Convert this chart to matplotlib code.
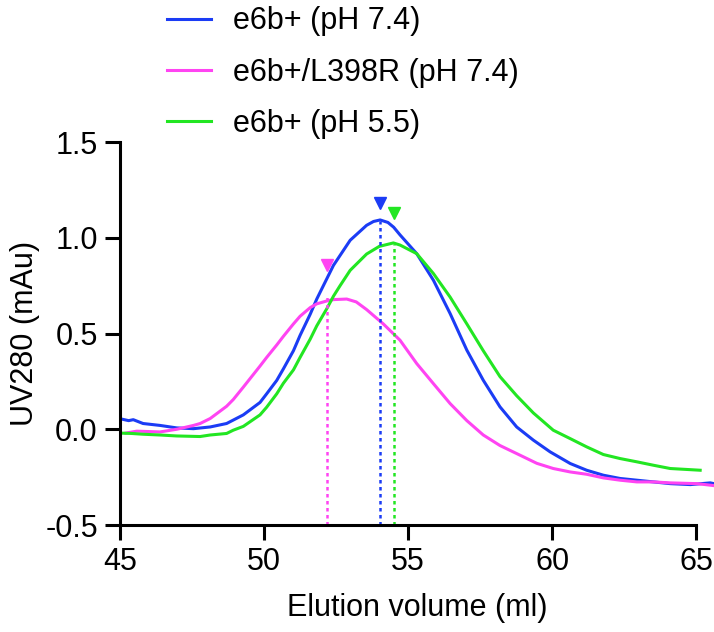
import matplotlib
matplotlib.use("Agg")
import matplotlib.pyplot as plt

# ── Data ────────────────────────────────────────────────────────────────────

BLUE_X = [45.0, 45.3, 45.46, 45.8, 46.39, 46.97, 47.55, 48.13, 48.7, 49.28,
          49.86, 50.09, 50.44, 50.67, 51.02, 51.25, 51.6, 51.83, 52.06, 52.41,
          52.99, 53.56, 53.8, 54.03, 54.3, 54.5, 54.72, 55.3, 55.88, 56.46,
          57.04, 57.61, 58.19, 58.77, 59.35, 59.93, 60.63, 61.2, 61.78, 62.36,
          62.94, 63.52, 64.1, 64.8, 65.49, 65.65]
BLUE_Y = [0.055, 0.045, 0.05, 0.03, 0.02, 0.007, 0.003, 0.012, 0.03, 0.075,
          0.14, 0.185, 0.255, 0.315, 0.41, 0.49, 0.60, 0.68, 0.75, 0.856,
          0.987, 1.065, 1.085, 1.093, 1.08, 1.055, 1.015, 0.917, 0.778, 0.604,
          0.413, 0.256, 0.117, 0.012, -0.057, -0.118, -0.179, -0.214, -0.24, -0.257,
          -0.266, -0.275, -0.284, -0.289, -0.28, -0.285]

MAG_X = [45.2, 45.58, 46.0, 46.39, 46.97, 47.55, 47.78, 48.13, 48.7, 48.93,
         49.28, 49.86, 50.09, 50.44, 50.67, 51.02, 51.25, 51.6, 51.83, 52.18,
         52.41, 52.87, 53.2, 53.56, 54.14, 54.72, 55.3, 55.88, 56.46, 57.04,
         57.61, 58.19, 58.77, 59.47, 60.04, 60.63, 61.2, 61.78, 62.36, 62.94,
         63.52, 64.1, 65.03, 65.49, 65.65]
MAG_Y = [-0.02, -0.01, -0.012, -0.014, 0.0, 0.02, 0.03, 0.056, 0.12, 0.155,
         0.22, 0.33, 0.375, 0.44, 0.485, 0.55, 0.59, 0.635, 0.655, 0.67,
         0.677, 0.68, 0.665, 0.625, 0.55, 0.465, 0.343, 0.238, 0.134, 0.045,
         -0.03, -0.085, -0.127, -0.178, -0.205, -0.223, -0.235, -0.254, -0.266, -0.275,
         -0.275, -0.28, -0.284, -0.292, -0.295]

GREEN_X = [45.0, 45.4, 45.8, 46.39, 46.97, 47.78, 48.13, 48.7, 48.93, 49.28,
           49.86, 50.09, 50.44, 50.67, 51.02, 51.25, 51.6, 51.83, 52.18, 52.41,
           52.64, 52.99, 53.56, 54.0, 54.49, 54.72, 55.3, 55.88, 56.46, 57.04,
           57.61, 58.19, 58.77, 59.35, 60.04, 60.63, 61.2, 61.78, 62.36, 62.94,
           63.52, 64.1, 65.14]
GREEN_Y = [-0.02, -0.022, -0.026, -0.03, -0.035, -0.038, -0.03, -0.022, -0.005, 0.015,
           0.075, 0.115, 0.185, 0.24, 0.31, 0.375, 0.47, 0.54, 0.63, 0.695,
           0.75, 0.83, 0.915, 0.955, 0.973, 0.962, 0.917, 0.813, 0.69, 0.55,
           0.41, 0.275, 0.175, 0.085, -0.005, -0.049, -0.092, -0.132, -0.153, -0.17,
           -0.188, -0.205, -0.214]

LABELS = ["e6b+ (pH 7.4)", "e6b+/L398R (pH 7.4)", "e6b+ (pH 5.5)"]
COLORS = ["#1b3cf5", "#ff44f2", "#22e622"]

# peak positions (blue, magenta, green), dashed line top and arrowhead height
PEAK_X = [54.03, 52.2, 54.52]
PEAK_TOP = [1.09, 0.69, 0.97]
MARK_Y = [1.18, 0.86, 1.13]

X_TICKS = [45, 50, 55, 60, 65]
Y_TICKS = [-0.5, 0.0, 0.5, 1.0, 1.5]

# ── Plot ─────────────────────────────────────────────────────────────────────

plt.rcParams["font.family"] = ["Liberation Sans", "DejaVu Sans"]
plt.rcParams["axes.unicode_minus"] = False

fig = plt.figure(figsize=(7.14, 6.32), dpi=100)
ax = fig.add_axes([0.1681, 0.1693, 0.8319, 0.606])

series = [(BLUE_X, BLUE_Y), (MAG_X, MAG_Y), (GREEN_X, GREEN_Y)]
for (xs, ys), col, lab in zip(series, COLORS, LABELS):
    ax.plot(xs, ys, color=col, lw=2.2, label=lab, solid_joinstyle="round")

for px, top, my, col in zip(PEAK_X, PEAK_TOP, MARK_Y, COLORS):
    ax.plot([px, px], [-0.5, top], color=col, lw=1.8, ls=(0, (1.4, 1.4)))
    ax.plot(px, my, marker="v", color=col, ms=8.5, ls="none")

ax.set_xlim(45, 65.62)
ax.set_ylim(-0.5, 1.5)
ax.spines["bottom"].set_bounds(45, 65)
for s in ["top", "right"]:
    ax.spines[s].set_visible(False)
for s in ["left", "bottom"]:
    ax.spines[s].set_linewidth(2.2)

ax.set_xticks(X_TICKS)
ax.set_xticklabels([str(t) for t in X_TICKS])
ax.set_yticks(Y_TICKS)
ax.set_yticklabels([f"{t:.1f}" for t in Y_TICKS])
ax.tick_params(direction="out", length=11, width=2.2, labelsize=22, pad=5)

ax.set_xlabel("Elution volume (ml)", fontsize=22, labelpad=11)
ax.set_ylabel("UV280 (mAu)", fontsize=22, labelpad=4)

ax.legend(loc="upper left", bbox_to_anchor=(0.234, 0.99),
          bbox_transform=fig.transFigure, frameon=False, fontsize=22,
          handlelength=1.45, handletextpad=0.7, labelspacing=0.7,
          borderpad=0, borderaxespad=0)

fig.savefig("out.png", dpi=100)
